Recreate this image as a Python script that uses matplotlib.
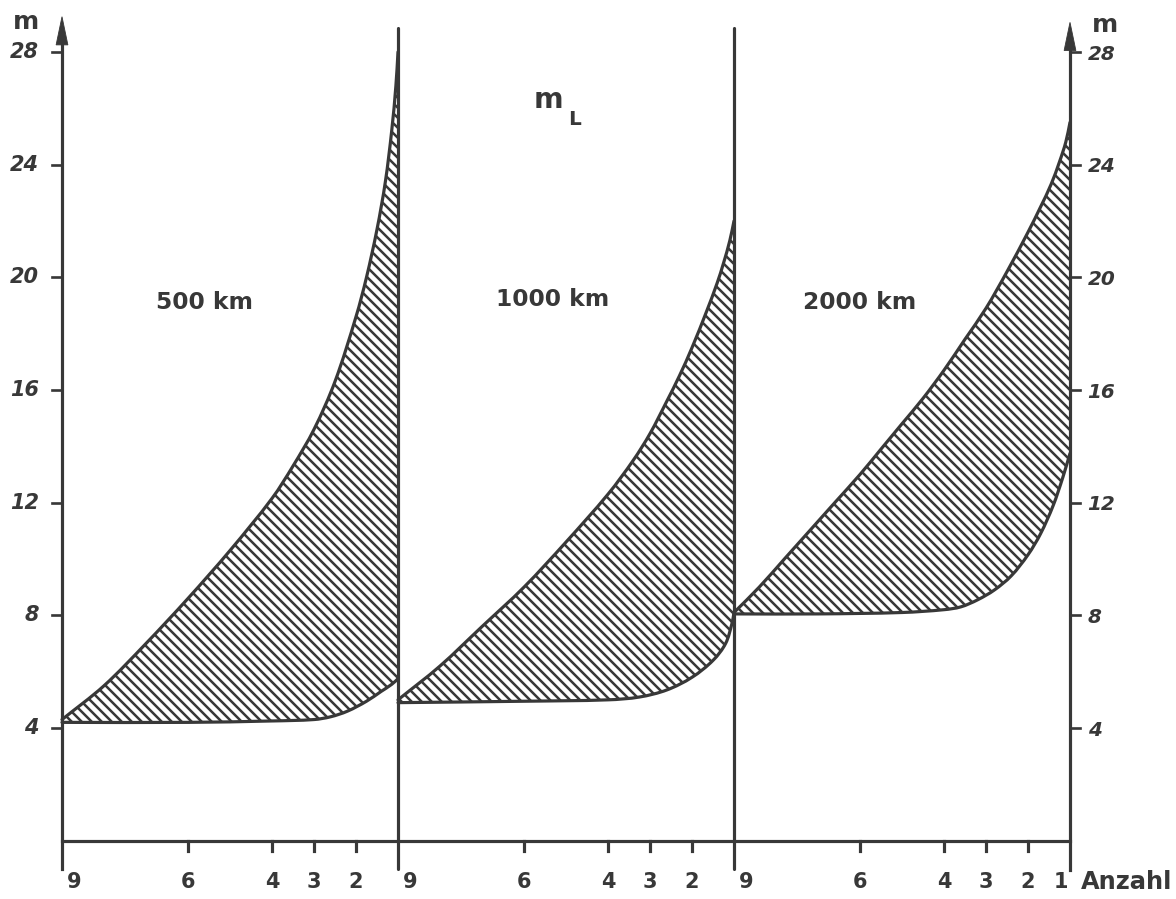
import matplotlib
matplotlib.use("Agg")
import matplotlib.pyplot as plt
from matplotlib.path import Path
from matplotlib.patches import PathPatch
import numpy as np

# ---- data -------------------------------------------------------------
panel_labels = ["500 km", "1000 km", "2000 km"]
anzahl_ticks = [9, 6, 4, 3, 2]
m_ticks = [4, 8, 12, 16, 20, 24, 28]

# 500 km: upper and lower boundary of the band (Anzahl n -> m)
n_500_upper = [9, 8, 7, 6, 5, 4, 3.5, 3, 2.5, 2, 1.75, 1.5, 1.3, 1.15, 1.05, 1.0]
m_500_upper = [4.3, 5.5, 7.0, 8.6, 10.3, 12.15, 13.3, 14.6, 16.3, 18.6, 20.0, 21.7, 23.4, 25.2, 26.8, 28.0]
n_500_lower = [9, 6, 4, 3, 2.6, 2.2, 1.75, 1.4, 1.15, 1.0]
m_500_lower = [4.2, 4.2, 4.25, 4.3, 4.4, 4.6, 4.95, 5.3, 5.55, 5.75]

# 1000 km
n_1000_upper = [9, 8, 7, 6, 5, 4, 3.4, 3, 2.6, 2.3, 2, 1.65, 1.4, 1.25, 1.1, 1.0]
m_1000_upper = [5.0, 6.2, 7.6, 9.0, 10.6, 12.3, 13.5, 14.45, 15.6, 16.5, 17.5, 18.8, 19.8, 20.5, 21.3, 22.0]
n_1000_lower = [9, 6, 4, 3.25, 2.6, 2.0, 1.5, 1.2, 1.05, 1.0]
m_1000_lower = [4.9, 4.95, 5.0, 5.1, 5.35, 5.8, 6.4, 7.0, 7.7, 8.1]

# 2000 km
n_2000_upper = [9, 8.4, 7.8, 7.2, 6.6, 6.0, 5.5, 5.0, 4.5, 4.0, 3.5, 3.0, 2.5, 2.0, 1.7, 1.45, 1.25, 1.1, 1.0]
m_2000_upper = [8.1, 9.0, 10.0, 11.0, 12.0, 13.0, 13.9, 14.8, 15.7, 16.7, 17.8, 18.9, 20.2, 21.6, 22.5, 23.3, 24.1, 24.8, 25.5]
n_2000_lower = [9, 7, 5, 4, 3.6, 3.2, 2.8, 2.4, 2.0, 1.7, 1.4, 1.17, 1.0]
m_2000_lower = [8.05, 8.05, 8.1, 8.2, 8.3, 8.55, 8.9, 9.4, 10.15, 10.9, 11.9, 12.9, 13.75]

bands = [
    (n_500_upper, m_500_upper, n_500_lower, m_500_lower),
    (n_1000_upper, m_1000_upper, n_1000_lower, m_1000_lower),
    (n_2000_upper, m_2000_upper, n_2000_lower, m_2000_lower),
]

# ---- style -------------------------------------------------------------
INK = "#383838"
plt.rcParams["font.family"] = ["DejaVu Sans"]
plt.rcParams["hatch.color"] = INK
plt.rcParams["hatch.linewidth"] = 1.5

PANEL_W = 8          # Anzahl 9 .. 1 per panel
SX, SY = 42.0, 28.17  # pixels per data unit (used for smooth curve tangents)


def to_x(panel, n):
    return panel * PANEL_W + (9 - np.asarray(n, dtype=float))


def smooth_segments(xs, ys):
    """Cubic Bezier pieces passing through every given point."""
    P = np.column_stack([np.asarray(xs) * SX, np.asarray(ys) * SY])
    k = len(P)
    T = np.zeros_like(P)
    for i in range(k):
        if i == 0:
            d = P[1] - P[0]
        elif i == k - 1:
            d = P[-1] - P[-2]
        else:
            d = P[i + 1] - P[i - 1]
        T[i] = d / np.hypot(*d)
    verts, codes = [], []
    for i in range(k - 1):
        L = np.hypot(*(P[i + 1] - P[i]))
        c1 = P[i] + T[i] * L / 3
        c2 = P[i + 1] - T[i + 1] * L / 3
        verts += [c1, c2, P[i + 1]]
        codes += [Path.CURVE4] * 3
    verts = np.array(verts) / [SX, SY]
    return P[0] / [SX, SY], verts, codes


def curve_path(xs, ys):
    start, v, c = smooth_segments(xs, ys)
    return Path(np.vstack([start, v]), [Path.MOVETO] + c)


fig = plt.figure(figsize=(9.8, 899 / 120), dpi=120)
ax = fig.add_axes([0, 0, 1, 1])
ax.set_xlim(-62 / 42, (1176 - 62) / 42)
ax.set_ylim(4 - (899 - 728) / 28.17, 4 + 728 / 28.17)
ax.axis("off")

LW = 1.9

# hatched bands with their outlines
for p, (nu, mu, nl, ml) in enumerate(bands):
    xu, xl = to_x(p, nu), to_x(p, nl)
    su, vu, cu = smooth_segments(xu, mu)
    sl, vl, cl = smooth_segments(xl[::-1], ml[::-1])
    band_verts = np.vstack([su, vu, sl, vl, su])
    band_codes = [Path.MOVETO] + cu + [Path.LINETO] + cl + [Path.CLOSEPOLY]
    ax.add_patch(PathPatch(Path(band_verts, band_codes), facecolor="none",
                           edgecolor=INK, hatch="\\\\\\\\", linewidth=0, zorder=2))
    for xs, ys in ((xu, mu), (xl, ml)):
        ax.add_patch(PathPatch(curve_path(xs, ys), facecolor="none",
                               edgecolor=INK, lw=LW, capstyle="round",
                               joinstyle="round", zorder=3))

x_end = to_x(2, 1)
# vertical axes / separators
ax.plot([0, 0], [-1.0, 28.3], color=INK, lw=LW, zorder=4)
ax.plot([x_end, x_end], [-1.05, 28.1], color=INK, lw=LW, zorder=4)
for p in (1, 2):
    xs = to_x(p, 9)
    ax.plot([xs, xs], [-1.0, 28.85], color=INK, lw=LW, solid_capstyle="round", zorder=4)

# arrow heads on the m axes
for xa, tip, base in ((0, 29.25, 28.25), (x_end, 29.05, 28.05)):
    ax.fill([xa - 0.14, xa, xa + 0.14], [base, tip, base], color=INK, lw=0.5,
            edgecolor=INK, zorder=5)

# horizontal Anzahl axis
ax.plot([0, x_end], [0, 0], color=INK, lw=LW, zorder=4)
for p in range(3):
    for n in anzahl_ticks[1:]:
        xt = to_x(p, n)
        ax.plot([xt, xt], [0, -0.38], color=INK, lw=LW, zorder=4)
        ax.text(xt, -1.45, str(n), ha="center", va="center", fontsize=12.5,
                fontweight="bold", color=INK)
    ax.text(to_x(p, 9) + 0.3, -1.45, "9", ha="center", va="center",
            fontsize=12.5, fontweight="bold", color=INK)
ax.text(x_end - 0.22, -1.45, "1", ha="center", va="center", fontsize=12.5,
        fontweight="bold", color=INK)
ax.text(x_end + 0.25, -1.45, "Anzahl", ha="left", va="center", fontsize=14.5,
        fontweight="bold", color=INK)

# m ticks on both sides
for m in m_ticks:
    ax.plot([-0.24, 0], [m, m], color=INK, lw=1.6, zorder=4)
    ax.plot([x_end, x_end + 0.24], [m, m], color=INK, lw=1.6, zorder=4)
    ax.text(-0.55, m, str(m), ha="right", va="center", fontsize=12.5,
            fontweight="bold", fontstyle="italic", color=INK)
    ax.text(x_end + 0.42, m - 0.08, str(m), ha="left", va="center", fontsize=12,
            fontstyle="italic", fontweight="bold", color=INK)

ax.text(-0.86, 29.05, "m", ha="center", va="center", fontsize=15,
        fontweight="bold", color=INK)
ax.text(x_end + 0.83, 28.95, "m", ha="center", va="center", fontsize=15,
        fontweight="bold", color=INK)

# m_L label
ax.text(11.57, 26.3, "m", ha="center", va="center", fontsize=17, color=INK,
        fontweight="bold")
ax.text(12.21, 25.6, "L", ha="center", va="center", fontsize=12, color=INK,
        fontweight="bold")

# panel titles
title_pos = [(3.4, 19.1), (11.69, 19.2), (18.98, 19.1)]
for (tx, ty), lab in zip(title_pos, panel_labels):
    ax.text(tx, ty, lab, ha="center", va="center", fontsize=14,
            fontweight="bold", color=INK)

fig.savefig("out.png", dpi=120, facecolor="white")
